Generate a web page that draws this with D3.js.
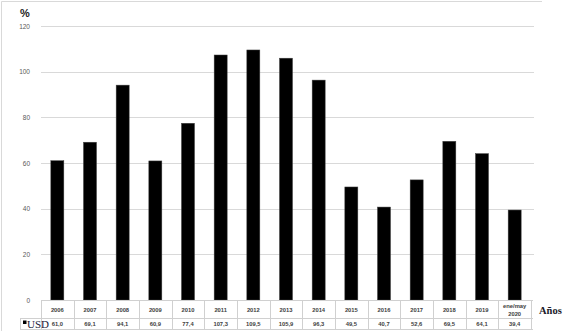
<!DOCTYPE html>
<html><head><meta charset="utf-8">
<script src="https://cdn.jsdelivr.net/npm/d3@7"></script>
<style>body{margin:0;background:#fff}svg{display:block}</style>
</head><body>
<svg id="c" width="577" height="331"></svg>
<script>
const categories = ["2006","2007","2008","2009","2010","2011","2012","2013","2014","2015","2016","2017","2018","2019","ene/may\n2020"];
const usd = [61.0,69.1,94.1,60.9,77.4,107.3,109.5,105.9,96.3,49.5,40.7,52.6,69.5,64.1,39.4];
const yTicks = [0,20,40,60,80,100,120];
const seriesName = "USD";

(function(){
const svg = d3.select("#c");
const mLeft = 41, mRight = 531, mTop = 26, mBottom = 300;
const x = d3.scaleBand().domain(categories).range([mLeft, mRight]).paddingInner(0).paddingOuter(0);
const y = d3.scaleLinear().domain([0,120]).range([mBottom, mTop]);

// border
svg.append("path").attr("d","M1.5,331 V1.5 H542").attr("fill","none").attr("stroke","#d9d9d9").attr("stroke-width",1);

// grid
svg.append("g").selectAll("line").data(yTicks.filter(d=>d>0)).join("line")
  .attr("x1",mLeft).attr("x2",534).attr("y1",d=>Math.round(y(d))+0.5).attr("y2",d=>Math.round(y(d))+0.5)
  .attr("stroke","#d9d9d9").attr("stroke-width",1);

// y axis labels
const yAxis = d3.axisLeft(y).tickValues(yTicks).tickSize(0).tickPadding(0).tickFormat(d3.format("d"));
const ga = svg.append("g").attr("transform","translate(30,0)").call(yAxis);
ga.select(".domain").remove();
ga.selectAll("text").attr("font-family","Liberation Sans, Arial, sans-serif").attr("font-size",6.5).attr("fill","#595959");

svg.append("text").attr("x",25).attr("y",17).attr("text-anchor","middle")
  .attr("font-family","Liberation Sans, Arial, sans-serif").attr("font-size",11).attr("font-weight","bold").attr("fill","#222").text("%");

// bars
const bw = 13;
svg.append("g").selectAll("rect").data(usd).join("rect")
  .attr("x",(d,i)=>x(categories[i])+x.bandwidth()/2-bw/2)
  .attr("y",d=>y(d)).attr("width",bw).attr("height",d=>y(0)-y(d))
  .attr("fill","#000").attr("stroke","#404040").attr("stroke-width",0.5);

// table
const tTop = 300.5, tMid = 318.5, tBot = 329.5;
const tg = svg.append("g").attr("stroke","#d0d0d0").attr("stroke-width",1).attr("fill","none");
tg.append("line").attr("x1",mLeft).attr("x2",mRight+2).attr("y1",tTop).attr("y2",tTop);
tg.append("line").attr("x1",20).attr("x2",mRight+2).attr("y1",tMid).attr("y2",tMid);
tg.append("line").attr("x1",20).attr("x2",mRight+2).attr("y1",tBot).attr("y2",tBot);
tg.append("line").attr("x1",20.5).attr("x2",20.5).attr("y1",tMid).attr("y2",tBot);
tg.selectAll("line.v").data(categories.concat(["end"])).join("line").attr("class","v")
  .attr("x1",(d,i)=>Math.round(mLeft + i*x.bandwidth())+0.5)
  .attr("x2",(d,i)=>Math.round(mLeft + i*x.bandwidth())+0.5)
  .attr("y1",tTop).attr("y2",tBot);

const hg = svg.append("g").attr("font-family","Liberation Sans, Arial, sans-serif").attr("font-size",5.8).attr("font-weight","bold").attr("fill","#404040").attr("text-anchor","middle");
categories.forEach((c,i)=>{
  const parts = c.split("\n");
  const cx = x(c)+x.bandwidth()/2;
  if(parts.length===1){
    hg.append("text").attr("x",cx).attr("y",312).text(c);
  } else {
    hg.append("text").attr("x",cx).attr("y",308).text(parts[0]);
    hg.append("text").attr("x",cx).attr("y",315.5).text(parts[1]);
  }
});
const fmt = d => d.toFixed(1).replace(".",",");
usd.forEach((v,i)=>{
  hg.append("text").attr("x",x(categories[i])+x.bandwidth()/2).attr("y",326).text(fmt(v));
});

// series label
svg.append("rect").attr("x",23).attr("y",320.5).attr("width",3.5).attr("height",3.5).attr("fill","#000");
svg.append("text").attr("x",27).attr("y",328).attr("font-family","Liberation Serif, Times New Roman, serif").attr("font-size",11).attr("fill","#1a1a3a").text(seriesName);

svg.append("text").attr("x",539).attr("y",314).attr("font-family","Liberation Serif, Times New Roman, serif").attr("font-size",10.5).attr("font-weight","bold").attr("fill","#1a1a2a").text("Años");
})();
</script>
</body></html>
